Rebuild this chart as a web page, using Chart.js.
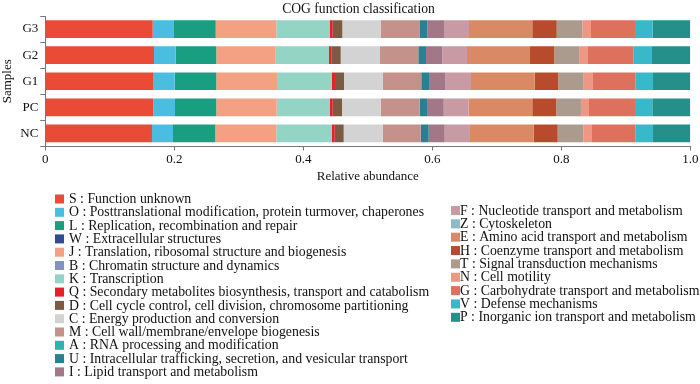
<!doctype html>
<html lang="en">
  <head>
    <meta charset="utf-8">
    <title>COG function classification</title>
    <style>
      * { margin: 0; padding: 0; }
      body { background: #fff; }
      .chartBox { width: 700px; height: 384px; position: relative; }
    </style>
  </head>
  <body>
    <div class="chartBox">
      <canvas id="myChart"></canvas>
    </div>
    <script src="https://cdn.jsdelivr.net/npm/chart.js/dist/chart.umd.min.js"></script>
    <script>
    // setup
    const samples = ['G3', 'G2', 'G1', 'PC', 'NC'];

    const cogCodes = ['S', 'O', 'L', 'W', 'J', 'B', 'K', 'Q', 'D', 'C', 'M', 'A', 'U', 'I',
                      'F', 'Z', 'E', 'H', 'T', 'N', 'G', 'V', 'P'];
    const cogNames = [
      'Function unknown',
      'Posttranslational modification, protein turmover, chaperones',
      'Replication, recombination and repair',
      'Extracellular structures',
      'Translation, ribosomal structure and biogenesis',
      'Chromatin structure and dynamics',
      'Transcription',
      'Secondary metabolites biosynthesis, transport and catabolism',
      'Cell cycle control, cell division, chromosome partitioning',
      'Energy production and conversion',
      'Cell wall/membrane/envelope biogenesis',
      'RNA processing and modification',
      'Intracellular trafficking, secretion, and vesicular transport',
      'Lipid transport and metabolism',
      'Nucleotide transport and metabolism',
      'Cytoskeleton',
      'Amino acid transport and metabolism',
      'Coenzyme transport and metabolism',
      'Signal transduction mechanisms',
      'Cell motility',
      'Carbohydrate transport and metabolism',
      'Defense mechanisms',
      'Inorganic ion transport and metabolism'
    ];
    const cogColors = [
      '#EA4B36', '#4BBDE0', '#1A9E82', '#2F4D8E', '#F4A083', '#8393BF', '#94D4C4',
      '#E5202A', '#7D5B42', '#D3D3D3', '#C4928A', '#2AB5B2', '#2A7F90', '#A27888',
      '#C89AA4', '#8DB9C8', '#D98A64', '#B74B2B', '#AB9B8E', '#EE9784', '#DE705E',
      '#37B9CA', '#25908A'
    ];

    // relative abundance per sample, same order as cogCodes
    const g3 = [0.1665, 0.0330, 0.0647, 0, 0.0939, 0, 0.0833, 0.0042, 0.0149, 0.0600, 0.0604, 0,
                0.0113, 0.0259, 0.0388, 0, 0.0981, 0.0379, 0.0397, 0.0134, 0.0683, 0.0274, 0.0583];
    const g2 = [0.1685, 0.0337, 0.0629, 0, 0.0921, 0, 0.0826, 0.0036, 0.0146, 0.0604, 0.0599, 0,
                0.0119, 0.0253, 0.0383, 0, 0.0977, 0.0377, 0.0393, 0.0129, 0.0708, 0.0284, 0.0594];
    const g1 = [0.1670, 0.0336, 0.0645, 0, 0.0941, 0, 0.0848, 0.0051, 0.0140, 0.0600, 0.0598, 0,
                0.0131, 0.0245, 0.0395, 0, 0.0988, 0.0365, 0.0394, 0.0134, 0.0672, 0.0269, 0.0578];
    const pc = [0.1674, 0.0337, 0.0640, 0, 0.0937, 0, 0.0826, 0.0042, 0.0144, 0.0600, 0.0605, 0,
                0.0124, 0.0248, 0.0387, 0, 0.0986, 0.0372, 0.0383, 0.0124, 0.0714, 0.0268, 0.0589];
    const nc = [0.1654, 0.0326, 0.0656, 0, 0.0945, 0, 0.0859, 0.0047, 0.0139, 0.0605, 0.0589, 0,
                0.0124, 0.0248, 0.0392, 0, 0.0990, 0.0370, 0.0397, 0.0135, 0.0671, 0.0275, 0.0578];
    const sampleValues = [g3, g2, g1, pc, nc];

    const xTicks = [0, 0.2, 0.4, 0.6, 0.8, 1.0];

    const FONT = '"Liberation Serif", "Times New Roman", serif';

    const data = {
      labels: samples,
      datasets: cogCodes.map((code, i) => ({
        label: code + ' : ' + cogNames[i],
        data: sampleValues.map(row => row[i]),
        backgroundColor: cogColors[i],
        borderWidth: 0,
        barPercentage: 0.68,
        categoryPercentage: 1.0,
      }))
    };

    // title + two-column legend drawn below the plot
    const cogLegend = {
      id: 'cogLegend',
      afterDraw(chart) {
        const { ctx } = chart;
        ctx.save();
        ctx.fillStyle = '#111';
        ctx.font = '13.6px ' + FONT;
        ctx.textAlign = 'center';
        ctx.textBaseline = 'middle';
        ctx.fillText('COG function classification', 358.5, 9);

        ctx.textAlign = 'left';
        ctx.font = '13.8px ' + FONT;
        const split = 14;
        chart.data.datasets.forEach((ds, i) => {
          const col = i < split ? 0 : 1;
          const row = col === 0 ? i : i - split;
          const sx = col === 0 ? 55 : 451;
          const tx = col === 0 ? 69 : 460;
          const cy = col === 0 ? 199 + row * 13.3 : 210.5 + row * 13.35;
          ctx.fillStyle = ds.backgroundColor;
          ctx.fillRect(sx, cy - 4.5, 9, 9);
          ctx.fillStyle = '#111';
          ctx.fillText(ds.label, tx, cy + 0.5);
        });
        ctx.restore();
      }
    };

    // config
    const config = {
      type: 'bar',
      data,
      options: {
        animation: false,
        responsive: true,
        maintainAspectRatio: false,
        indexAxis: 'y',
        layout: {
          padding: { left: 0, right: 9.7, top: 16, bottom: 200 }
        },
        scales: {
          x: {
            stacked: true,
            min: 0,
            max: 1,
            afterBuildTicks: (scale) => { scale.ticks = xTicks.map(v => ({ value: v })); },
            afterFit: (scale) => { scale.height = 37.5; },
            ticks: {
              color: '#111',
              font: { family: FONT, size: 13 },
              padding: 1,
              maxRotation: 0,
              callback: (v) => v === 0 ? '0' : v.toFixed(1)
            },
            grid: { drawOnChartArea: false, tickLength: 4, color: '#777' },
            border: { color: '#777', width: 1 },
            title: {
              display: true,
              text: 'Relative abundance',
              color: '#111',
              font: { family: FONT, size: 13 },
              padding: { top: 2, bottom: 0 }
            }
          },
          y: {
            stacked: true,
            afterFit: (scale) => { scale.width = 45.3; },
            ticks: {
              color: '#111',
              font: { family: FONT, size: 13 },
              padding: 2
            },
            grid: { drawOnChartArea: false, tickLength: 5, color: '#777' },
            border: { color: '#777', width: 1 },
            title: {
              display: true,
              text: 'Samples',
              color: '#111',
              font: { family: FONT, size: 13 },
              padding: { top: 0, bottom: 0 }
            }
          }
        },
        plugins: {
          legend: { display: false },
          tooltip: { enabled: false }
        }
      },
      plugins: [cogLegend]
    };

    const myChart = new Chart(document.getElementById('myChart'), config);
    </script>
  </body>
</html>
